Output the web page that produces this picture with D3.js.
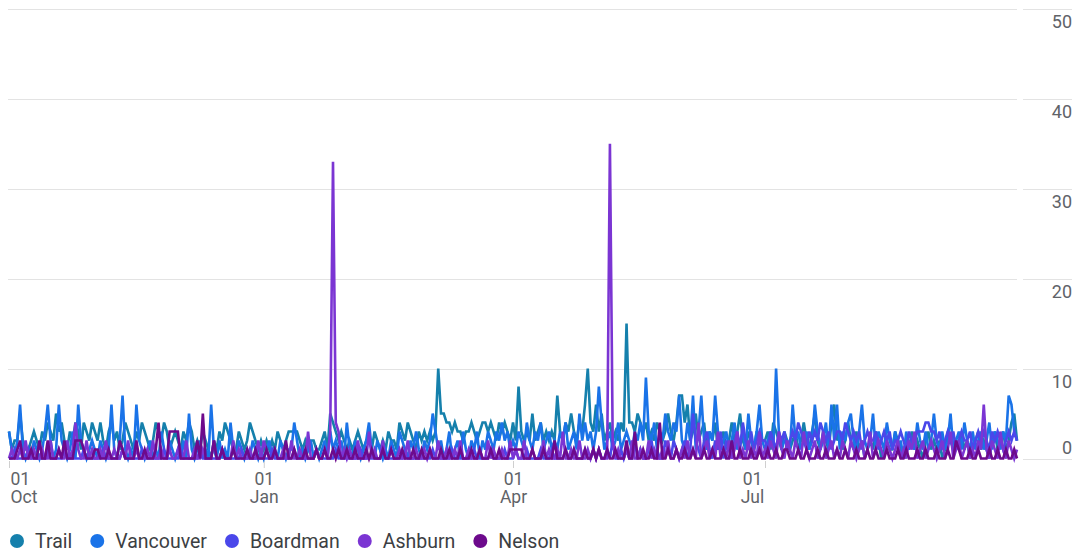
<!DOCTYPE html>
<html>
<head>
<meta charset="utf-8">
<script src="https://cdn.jsdelivr.net/npm/d3@7"></script>
<style>
  body { margin: 0; background: #fff; }
  text { font-family: Roboto, "Noto Sans", sans-serif; }
</style>
</head>
<body>
<script>
const width = 1076;
const height = 552;

// one value per day, 1 Oct 2022 .. 30 Sep 2023 (rows are months)
const startDay = "2022-10-01";
const endDay = "2023-09-30";

const trail = [
    3,1,2,2,5,2,1,1,2,3,2,1,3,2,4,3,2,5,3,4,2,1,3,2,4,3,1,4,3,2,4,
    3,2,4,2,1,3,4,2,3,1,2,4,3,2,1,3,2,4,3,2,1,2,4,3,2,4,3,1,2,3,
    2,1,3,2,4,3,1,2,1,3,2,1,0,2,1,3,2,4,3,2,1,1,3,2,1,2,4,3,2,1,2,
    1,2,1,2,1,3,2,1,2,3,3,3,3,2,1,2,1,2,2,1,1,2,3,1,5,4,3,2,3,2,1,
    2,1,2,3,2,1,2,2,1,3,2,1,2,1,3,2,2,1,4,3,2,4,3,2,1,3,2,3,
    2,3,2,3,10,5,5,4,4,3,4,3,3,2,3,3,4,3,2,3,4,4,3,4,3,2,4,3,4,3,2,
    4,2,8,3,2,3,2,5,2,3,4,2,3,2,3,2,7,3,2,4,3,5,3,2,4,3,6,10,4,3,
    6,3,5,2,3,4,2,3,2,4,3,15,4,4,3,5,4,3,4,2,3,2,4,3,2,3,5,3,2,4,7,
    7,4,6,2,3,5,2,3,4,1,3,2,4,1,2,3,1,2,4,2,3,5,2,1,3,2,1,3,2,2,
    2,3,1,4,3,2,1,3,2,1,2,3,1,2,4,2,1,3,5,2,1,3,2,1,4,6,2,3,1,2,4,
    2,1,3,1,2,0,1,2,1,3,2,0,1,2,1,1,3,2,1,0,2,1,3,1,2,1,0,2,3,1,2,
    1,2,0,1,3,2,1,2,1,3,1,2,0,1,2,3,1,2,1,0,2,3,1,2,3,1,2,4,5,2
];

const vancouver = [
    3,1,0,2,6,1,0,1,0,2,1,0,1,3,6,2,0,1,6,2,1,0,1,3,0,6,2,1,0,1,2,
    1,0,2,1,0,1,6,1,0,2,7,1,0,1,0,6,2,1,0,1,2,0,1,0,3,1,0,2,1,0,
    1,0,2,0,5,1,0,1,2,0,1,0,6,1,0,2,0,1,0,4,1,0,2,1,0,1,0,2,1,0,1,
    0,1,2,0,1,0,2,1,0,1,1,4,2,0,1,0,1,2,0,1,0,1,2,0,3,1,2,1,2,0,4,
    1,0,2,1,0,1,2,4,1,0,2,1,0,1,0,2,1,0,3,2,1,0,2,1,3,1,0,2,
    1,2,5,3,1,2,0,1,3,0,1,2,0,3,1,0,2,1,3,0,2,1,3,2,1,3,2,4,2,3,1,
    2,1,3,2,1,4,2,1,3,2,4,1,2,3,1,2,1,3,2,4,1,2,3,1,5,2,4,2,3,1,
    3,8,4,1,2,3,1,2,4,1,2,3,2,1,3,2,4,2,9,3,2,4,1,3,2,5,3,2,4,3,7,
    2,1,4,2,7,1,3,7,2,1,3,2,7,3,1,2,3,1,2,4,1,2,3,1,5,2,1,3,6,2,
    1,2,3,1,10,3,1,2,2,1,6,2,3,1,2,3,1,2,6,3,1,2,4,1,6,2,6,1,3,2,4,
    5,2,1,3,6,2,1,2,5,1,3,2,1,4,2,1,3,1,2,0,3,1,2,1,4,2,1,3,1,2,5,
    2,1,3,1,2,5,1,2,3,1,4,2,1,3,1,2,3,1,2,4,1,3,2,1,3,2,7,6,3,2
];

const boardman = [
    0,0,1,0,0,0,0,1,0,0,0,0,0,0,1,0,0,0,0,0,1,0,0,0,0,0,0,1,0,0,0,
    0,0,0,1,0,0,0,0,0,0,1,0,0,0,0,0,0,1,0,0,0,0,0,0,0,1,0,0,0,0,
    0,1,0,0,0,0,0,0,1,0,0,0,0,0,0,0,1,0,0,0,0,0,0,1,0,0,0,0,0,0,0,
    0,0,0,1,0,0,0,0,0,0,0,1,0,0,0,0,0,0,0,1,0,0,0,0,0,0,1,0,0,0,0,
    0,0,0,0,1,0,0,0,0,0,0,0,1,0,0,0,0,0,0,0,1,0,0,0,0,0,0,0,
    0,0,1,0,0,0,0,0,0,1,0,0,0,0,0,0,0,1,0,0,0,0,0,1,0,0,0,0,1,0,0,
    0,1,0,0,0,1,0,0,0,0,1,0,0,0,1,0,0,0,0,1,0,0,1,0,0,0,1,0,0,1,
    0,1,0,0,1,0,2,0,0,1,0,1,0,0,2,0,1,0,0,1,2,0,1,0,0,2,1,0,2,1,0,
    1,2,0,1,5,2,1,0,2,3,1,0,2,1,3,0,2,1,0,2,3,1,4,2,1,3,1,2,3,2,
    2,1,3,2,1,3,2,3,1,2,3,2,4,3,2,1,3,2,3,2,4,3,2,3,1,2,3,3,2,4,3,
    2,3,2,3,1,2,3,2,2,3,1,2,3,2,3,1,2,2,3,2,1,3,2,2,3,3,3,4,4,3,3,
    2,3,1,2,3,2,3,1,2,3,2,2,3,1,2,3,2,3,2,1,3,2,3,2,1,2,3,2,3,2
];

const ashburn = [
    0,1,0,0,1,0,2,0,0,1,0,0,1,0,0,2,0,0,1,0,0,2,0,1,4,1,0,0,2,0,1,
    0,0,1,0,2,0,0,1,0,0,1,0,2,0,0,1,0,0,0,1,0,2,0,0,1,0,0,1,0,0,
    1,0,0,2,0,0,1,0,0,1,0,0,0,2,0,0,1,0,0,0,2,0,1,0,0,0,1,0,0,2,0,
    2,1,0,0,1,0,0,1,0,0,2,0,0,1,0,0,3,0,0,1,0,0,1,0,3,33,4,3,0,1,0,
    1,0,0,2,0,0,0,3,0,1,0,0,2,0,0,1,0,0,1,0,0,2,0,0,1,0,0,1,
    0,1,0,0,2,0,0,1,0,0,1,0,2,0,0,1,0,0,0,1,0,0,2,0,1,0,0,1,0,0,2,
    0,1,0,0,2,0,0,1,0,0,0,2,0,1,0,0,1,0,3,0,0,1,0,0,2,0,0,1,0,1,
    0,1,0,0,0,35,2,0,1,0,0,1,0,2,0,0,1,0,0,2,0,1,0,0,1,0,2,0,0,1,0,
    1,0,2,0,1,0,4,0,1,2,0,1,0,3,0,1,0,2,0,1,3,0,1,0,2,0,1,0,3,0,
    1,0,2,1,0,3,1,0,2,1,0,2,1,0,3,1,0,1,2,0,1,3,0,1,2,0,1,0,2,1,0,
    2,1,0,1,2,0,1,3,0,1,2,1,0,2,1,0,1,2,0,1,0,2,1,3,0,1,2,0,1,2,1,
    0,1,2,0,1,3,0,1,2,0,1,2,0,1,0,2,1,6,1,0,2,1,0,3,1,0,2,1,0,1
];

const nelson = [
    0,0,0,1,2,0,0,0,1,0,0,2,0,0,2,0,0,0,1,0,2,0,0,0,2,2,2,1,0,0,0,
    1,1,0,0,0,1,0,0,0,2,1,0,0,0,0,2,0,0,1,0,0,0,1,4,0,0,0,3,3,3,
    3,0,0,0,0,0,0,2,0,5,0,0,0,2,0,0,1,0,0,0,1,0,0,0,0,1,0,0,1,0,0,
    0,1,0,0,1,0,0,0,2,0,0,1,0,0,0,1,0,0,0,1,0,0,1,0,0,1,0,1,0,0,1,
    0,0,1,0,0,0,1,0,1,0,0,0,1,0,0,1,0,0,0,1,0,0,0,1,0,0,1,0,
    0,1,0,0,0,1,0,0,1,0,0,0,1,0,0,0,1,0,0,1,0,0,0,1,0,0,1,0,0,0,1,
    1,1,1,1,0,0,0,1,0,0,0,1,0,0,0,2,0,0,0,1,0,0,1,0,0,0,1,0,0,1,
    0,1,0,0,1,0,0,1,0,0,0,2,0,0,3,0,0,1,0,0,1,0,0,4,0,0,1,0,0,1,0,
    0,1,0,0,1,0,0,0,1,0,0,1,0,0,0,1,0,0,2,0,0,1,0,0,0,1,0,0,1,0,
    0,1,0,0,1,0,0,1,1,0,0,0,1,0,0,1,0,0,0,1,0,0,1,0,0,0,1,0,0,1,0,
    0,0,1,0,0,0,1,0,0,1,0,0,0,1,0,0,0,1,0,0,1,0,0,0,1,0,0,1,0,0,0,
    1,0,0,0,1,0,0,2,1,0,0,0,1,0,0,1,0,0,0,1,0,0,1,0,0,1,0,0,1,0
];

const seriesNames = ["Trail", "Vancouver", "Boardman", "Ashburn", "Nelson"];
const seriesValues = [trail, vancouver, boardman, ashburn, nelson];
const seriesColors = ["#1580ac", "#1a73e8", "#4a47ea", "#7b35d3", "#6d0a8c"];

const xTickDates = ["2022-10-01", "2023-01-01", "2023-04-01", "2023-07-01"];
const xTickDays = ["01", "01", "01", "01"];
const xTickMonths = ["Oct", "Jan", "Apr", "Jul"];
const yTicks = [0, 10, 20, 30, 40, 50];

const parse = d3.utcParse("%Y-%m-%d");
const day0 = parse(startDay);

const x = d3.scaleUtc()
    .domain([day0, parse(endDay)])
    .range([9, 1017]);
const y = d3.scaleLinear()
    .domain([0, 50])
    .range([458.5, 9]);

const svg = d3.select("body").append("svg")
    .attr("width", width)
    .attr("height", height);

// gridlines: plot part and the short part under the labels
const grid = svg.append("g");
grid.selectAll("line.plot")
    .data(yTicks.filter(d => d > 0))
    .enter().append("line")
        .attr("class", "plot")
        .attr("x1", 8).attr("x2", 1017)
        .attr("y1", d => Math.round(y(d)) + 0.5)
        .attr("y2", d => Math.round(y(d)) + 0.5)
        .attr("stroke", "#e3e3e3");
grid.selectAll("line.side")
    .data(yTicks)
    .enter().append("line")
        .attr("class", "side")
        .attr("x1", 1023).attr("x2", 1072)
        .attr("y1", d => Math.round(y(d)) + 0.5)
        .attr("y2", d => Math.round(y(d)) + 0.5)
        .attr("stroke", "#e3e3e3");
grid.selectAll("text")
    .data(yTicks)
    .enter().append("text")
        .attr("x", 1072)
        .attr("y", d => d === 0 ? y(d) - 5 : y(d) + 19)
        .attr("text-anchor", "end")
        .attr("font-size", 18)
        .attr("fill", "#606368")
        .text(d => d);

// x axis
const xAxis = d3.axisBottom(x)
    .tickValues(xTickDates.map(parse))
    .tickSize(7)
    .tickFormat("");
const xg = svg.append("g")
    .attr("transform", "translate(0,461)")
    .call(xAxis);
xg.select(".domain").remove();
xg.selectAll(".tick line").attr("stroke", "#cfcfcf");
xg.selectAll(".tick text").remove();
xg.selectAll(".tick").each(function (d, i) {
    const tick = d3.select(this);
    // first label hugs the left edge, the last sits a bit left of its tick
    const first = i === 0;
    const shift = first ? 1 : (i === xTickDates.length - 1 ? -13 : 0);
    [xTickDays[i], xTickMonths[i]].forEach((s, k) => {
        tick.append("text")
            .attr("x", shift)
            .attr("y", k === 0 ? 24 : 42)
            .attr("text-anchor", first ? "start" : "middle")
            .attr("font-size", 17.5)
            .attr("fill", "#5f6368")
            .text(s);
    });
});

// lines
const line = d3.line()
    .x((d, i) => x(d3.utcDay.offset(day0, i)))
    .y(d => y(d));

svg.append("g").selectAll("path")
    .data(seriesValues)
    .enter().append("path")
        .attr("d", line)
        .attr("fill", "none")
        .attr("stroke", (d, i) => seriesColors[i])
        .attr("stroke-width", 2.6)
        .attr("stroke-linejoin", "miter");

// legend
const legend = svg.append("g").attr("transform", "translate(0,541)");
let lx = 17;
seriesNames.forEach((name, i) => {
    legend.append("circle")
        .attr("cx", lx).attr("cy", 0).attr("r", 7)
        .attr("fill", seriesColors[i]);
    const t = legend.append("text")
        .attr("x", lx + 18).attr("y", 7)
        .attr("font-size", 19.5)
        .attr("fill", "#3c4043")
        .text(name);
    lx += 18 + t.node().getComputedTextLength() + 25;
});
</script>
</body>
</html>
